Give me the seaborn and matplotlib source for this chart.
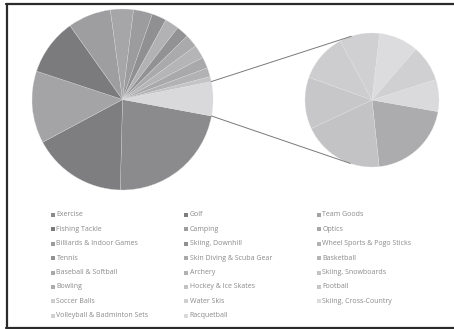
import numpy as np
import matplotlib
matplotlib.use("Agg")
import matplotlib.pyplot as plt
from matplotlib.patches import Rectangle
from matplotlib.lines import Line2D
import seaborn as sns

sns.set_theme(style="white")
plt.rcParams['font.family'] = ['Open Sans', 'DejaVu Sans']

# ---- data ----
main_labels = ["Exercise", "Golf", "Team Goods", "Fishing Tackle", "Camping", "Optics",
               "Billiards & Indoor Games", "Skiing, Downhill", "Wheel Sports & Pogo Sticks",
               "Tennis", "Skin Diving & Scuba Gear", "Basketball", "Baseball & Softball",
               "Archery", "Skiing, Snowboards"]
main_values = [22.5, 16.8, 12.9, 10.1, 7.7, 4.1, 3.4, 2.6, 2.5, 2.2, 2.3, 2.4, 2.0, 1.6, 0.9]
main_colors = ["#8b8b8d", "#7e7e80", "#a4a4a6", "#7b7b7d", "#9e9ea0", "#a6a6a8",
               "#9c9c9e", "#909092", "#b2b2b4", "#929294", "#aaaaac", "#b5b5b7",
               "#a9a9ab", "#b2b2b4", "#c4c4c6"]

sub_labels = ["Bowling", "Hockey & Ice Skates", "Football", "Soccer Balls", "Water Skis",
              "Skiing, Cross-Country", "Volleyball & Badminton Sets", "Racquetball"]
sub_values = [1.25, 1.20, 0.76, 0.71, 0.59, 0.58, 0.53, 0.47]
sub_colors = ["#acacae", "#c3c3c5", "#c7c7c9", "#cdcdcf", "#d0d0d2", "#dcdcde",
              "#d0d0d2", "#dadadc"]
other_color = "#d9d9db"

W, H = 454, 329
fig = plt.figure(figsize=(W / 100, H / 100), dpi=100)
ax = fig.add_axes([0, 0, 1, 1])

c1 = (122.5, H - 99.5)
r1 = 90.5
c2 = (372.0, H - 100.0)
r2 = 67.0

vals1 = main_values + [sum(sub_values)]
cols1 = main_colors + [other_color]
w1, _ = ax.pie(vals1, colors=cols1, startangle=-10.5, counterclock=False,
               center=c1, radius=r1, frame=True,
               wedgeprops=dict(edgecolor="#dedede", linewidth=0.2))
w2, _ = ax.pie(sub_values, colors=sub_colors, startangle=-10, counterclock=False,
               center=c2, radius=r2, frame=True,
               wedgeprops=dict(edgecolor="#e4e4e4", linewidth=0.2))
ax.set_xlim(0, W)
ax.set_ylim(0, H)
ax.set_aspect("equal")
ax.set_xticks([])
ax.set_yticks([])
for s in ax.spines.values():
    s.set_visible(False)
ax.set_facecolor("white")

# connector lines: tangents from the edges of the "other" slice to the secondary pie
ow = w1[-1]
for ang, sign in [(ow.theta2, 1), (ow.theta1, -1)]:
    a = np.deg2rad(ang)
    p = np.array([c1[0] + r1 * np.cos(a), c1[1] + r1 * np.sin(a)])
    c = np.array(c2)
    d = p - c
    dist = np.hypot(*d)
    base = np.arctan2(d[1], d[0])
    t = base - sign * np.arccos(r2 / dist)
    q = c + r2 * np.array([np.cos(t), np.sin(t)])
    ax.add_line(Line2D([p[0], q[0]], [p[1], q[1]], color="#7a7a7a", lw=0.7))

# legend (row-major, 3 columns)
all_labels = main_labels + sub_labels
all_colors = main_colors + sub_colors
x0, y0, dx, dy = 50.5, 215.0, 133.0, 14.4
for i, (lab, col) in enumerate(zip(all_labels, all_colors)):
    row, cc = divmod(i, 3)
    x = x0 + cc * dx
    y = y0 + row * dy
    ax.add_patch(Rectangle((x, H - y - 2), 4, 4, facecolor=col, edgecolor="none"))
    ax.text(x + 6.0, H - y, lab, fontsize=5.0, color="#8a8a8a", va="center", ha="left")

# frame (top, left, bottom)
for xs, ys in [([6, W + 5], [H - 3.5, H - 3.5]), ([6.5, 6.5], [H - 3.5, H - 327.5]),
               ([6, W + 5], [H - 327.5, H - 327.5])]:
    ax.add_line(Line2D(xs, ys, color="#2b2b2b", lw=1.6, clip_on=False))

fig.savefig("out.png", dpi=100, facecolor="white")
